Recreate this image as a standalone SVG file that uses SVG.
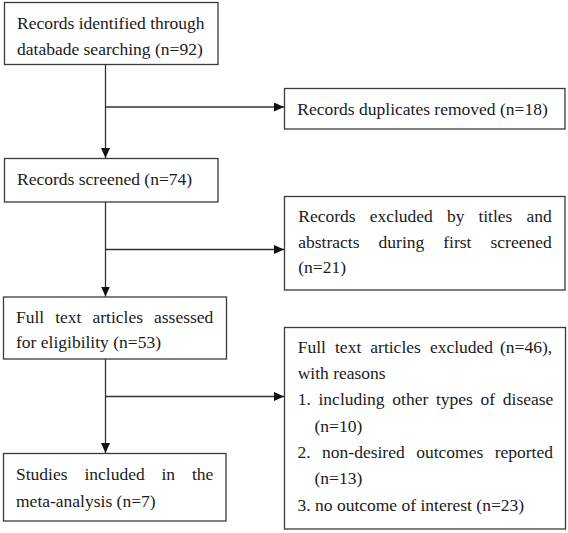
<svg xmlns="http://www.w3.org/2000/svg" width="568" height="533" viewBox="0 0 568 533">
<defs>
<style>
.box{fill:#fff;stroke:#3a3a3a;stroke-width:1.3}
.t{font-family:"Liberation Serif","Times New Roman",serif;font-size:17.5px;fill:#1a1a1a}
.c{stroke:#333;stroke-width:1.3;fill:none}
</style>
<marker id="ah" markerUnits="userSpaceOnUse" markerWidth="11" markerHeight="10" refX="10" refY="4.5" orient="auto">
<path d="M0,0 L10,4.5 L0,9 Z" fill="#111"/>
</marker>
</defs>
<rect width="568" height="533" fill="#fff"/>
<g id="connectors">
<line class="c" x1="105.5" y1="64.5" x2="105.5" y2="158" marker-end="url(#ah)"/>
<line class="c" x1="105.5" y1="107" x2="284" y2="107" marker-end="url(#ah)"/>
<line class="c" x1="105.5" y1="202" x2="105.5" y2="296.5" marker-end="url(#ah)"/>
<line class="c" x1="105.5" y1="249.5" x2="284" y2="249.5" marker-end="url(#ah)"/>
<line class="c" x1="105.5" y1="359" x2="105.5" y2="453" marker-end="url(#ah)"/>
<line class="c" x1="105.5" y1="396.5" x2="284" y2="396.5" marker-end="url(#ah)"/>
</g>
<g id="n1">
<rect class="box" x="4.5" y="2.5" width="213.5" height="62"/>
<text class="t" x="17" y="28.5">Records identified through</text>
<text class="t" x="17" y="54.5">databade searching (n=92)</text>
</g>
<g id="n2">
<rect class="box" x="4.5" y="158.5" width="213.5" height="43.5"/>
<text class="t" x="17" y="185">Records screened (n=74)</text>
</g>
<g id="n3">
<rect class="box" x="3.5" y="297" width="223" height="62"/>
<text class="t" y="323.3"><tspan x="16">Full</tspan><tspan x="55.2">text</tspan><tspan x="92.5">articles</tspan><tspan x="154">assessed</tspan></text>
<text class="t" x="16" y="348.3">for eligibility (n=53)</text>
</g>
<g id="n4">
<rect class="box" x="3.5" y="453.5" width="222.5" height="67.5"/>
<text class="t" y="480"><tspan x="16">Studies</tspan><tspan x="84.4">included</tspan><tspan x="161.5">in</tspan><tspan x="191.9">the</tspan></text>
<text class="t" x="16" y="507">meta-analysis (n=7)</text>
</g>
<g id="e1">
<rect class="box" x="284.5" y="88.5" width="280.5" height="40.5"/>
<text class="t" x="297.3" y="114.5">Records duplicates removed (n=18)</text>
</g>
<g id="e2">
<rect class="box" x="284.5" y="196.5" width="280.5" height="93.5"/>
<text class="t" y="222.3"><tspan x="298.3">Records</tspan><tspan x="369.7">excluded</tspan><tspan x="446.9">by</tspan><tspan x="478.4">titles</tspan><tspan x="526.4">and</tspan></text>
<text class="t" y="248.3"><tspan x="298.3">abstracts</tspan><tspan x="378.6">during</tspan><tspan x="443.3">first</tspan><tspan x="490.5">screened</tspan></text>
<text class="t" x="298.3" y="273.3">(n=21)</text>
</g>
<g id="e3">
<rect class="box" x="284.5" y="327.5" width="281" height="201.5"/>
<text class="t" y="353.3"><tspan x="297.7">Full</tspan><tspan x="335">text</tspan><tspan x="370.3">articles</tspan><tspan x="429.9">excluded</tspan><tspan x="500">(n=46),</tspan></text>
<text class="t" x="297.7" y="379">with reasons</text>
<text class="t" y="405.3"><tspan x="297.7">1.</tspan><tspan x="318.5">including</tspan><tspan x="392.3">other</tspan><tspan x="435.9">types</tspan><tspan x="480.5">of</tspan><tspan x="502.8">disease</tspan></text>
<text class="t" x="314.5" y="431.6">(n=10)</text>
<text class="t" y="458"><tspan x="297.5">2.</tspan><tspan x="322.1">non-desired</tspan><tspan x="416.2">outcomes</tspan><tspan x="494.7">reported</tspan></text>
<text class="t" x="314.5" y="484.4">(n=13)</text>
<text class="t" x="297.5" y="510.7">3. no outcome of interest (n=23)</text>
</g>
</svg>
